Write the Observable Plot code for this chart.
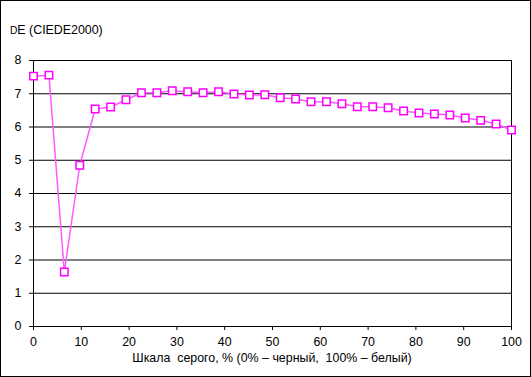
<!DOCTYPE html>
<html>
<head>
<meta charset="utf-8">
<script src="https://cdn.jsdelivr.net/npm/d3@7"></script>
<script src="https://cdn.jsdelivr.net/npm/@observablehq/plot@0.6"></script>
<style>
  html, body { margin: 0; padding: 0; background: #fff; }
  #wrap { position: relative; width: 531px; height: 377px; font-family: "Liberation Sans", Arial, sans-serif; }
  #border { position: absolute; left: 0; top: 0; width: 531px; height: 377px; box-sizing: border-box; border: 1px solid #000; pointer-events: none; }
  #title { position: absolute; left: 10px; top: 23px; font-size: 12.4px; color: #000; }
  #title .d { font-size: 10.2px; text-transform: uppercase; }
  #xlabel { position: absolute; left: 33px; width: 478px; top: 351px; text-align: center; font-size: 12.4px; color: #000; white-space: pre; }
  svg { display: block; }
</style>
</head>
<body>
<div id="wrap">
  <div id="chart"></div>
  <div id="title"><span class="d">d</span>E (CIEDE2000)</div>
  <div id="xlabel">Шкала  серого, % (0% – черный,  100% – белый)</div>
  <div id="border"></div>
</div>
<script>
const grayLevels = [0, 3.23, 6.45, 9.68, 12.9, 16.13, 19.35, 22.58, 25.81, 29.03, 32.26, 35.48, 38.71, 41.94, 45.16, 48.39,
  51.61, 54.84, 58.06, 61.29, 64.52, 67.74, 70.97, 74.19, 77.42, 80.65, 83.87, 87.1, 90.32, 93.55, 96.77, 100];
const dE = [7.53, 7.56, 1.64, 4.85, 6.54, 6.60, 6.82, 7.03, 7.03, 7.09, 7.06, 7.03, 7.06, 6.99, 6.96, 6.97,
  6.88, 6.84, 6.76, 6.76, 6.70, 6.61, 6.61, 6.58, 6.48, 6.42, 6.39, 6.36, 6.27, 6.20, 6.09, 5.91];
const xTicks = [0, 10, 20, 30, 40, 50, 60, 70, 80, 90, 100];
const yTicks = [0, 1, 2, 3, 4, 5, 6, 7, 8];

const data = grayLevels.map((x, i) => ({x, y: dE[i]}));

const chart = Plot.plot({
  width: 531,
  height: 377,
  marginLeft: 33,
  marginRight: 20,
  marginTop: 60,
  marginBottom: 51,
  style: {fontFamily: "'Liberation Sans', Arial, sans-serif", fontSize: "12.4px", color: "#000", background: "transparent"},
  x: {domain: [0, 100], ticks: xTicks, tickSize: 4, tickPadding: 7, label: null},
  y: {domain: [0, 8], ticks: yTicks, tickSize: 4, tickPadding: 8, label: null},
  marks: [
    Plot.gridY(yTicks, {stroke: "#000", strokeOpacity: 1, strokeWidth: 1}),
    Plot.frame({stroke: "#000", strokeWidth: 1}),
    Plot.line(data, {x: "x", y: "y", stroke: "#ff5cff", strokeWidth: 1.5}),
    Plot.dot(data, {x: "x", y: "y", symbol: "square", r: 4.2, fill: "#fff", stroke: "#ff00ff", strokeWidth: 1.5})
  ]
});
document.getElementById("chart").appendChild(chart);
</script>
</body>
</html>
